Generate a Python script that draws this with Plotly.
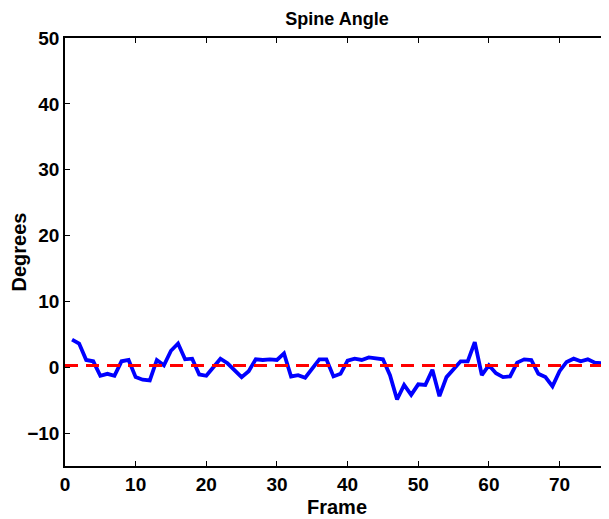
import plotly.graph_objects as go

frames = list(range(1, 78))
spine_angle = [
    4.2, 3.6, 1.1, 0.9, -1.3, -1.0, -1.3, 0.9, 1.1, -1.5,
    -1.9, -2.0, 1.1, 0.3, 2.5, 3.6, 1.2, 1.3, -1.1, -1.3,
    0.0, 1.3, 0.6, -0.4, -1.5, -0.6, 1.2, 1.1, 1.2, 1.1,
    2.1, -1.4, -1.2, -1.6, -0.2, 1.2, 1.2, -1.4, -1.0, 1.0,
    1.3, 1.1, 1.5, 1.4, 1.2, -1.2, -4.9, -2.7, -4.2, -2.6,
    -2.7, -0.4, -4.4, -1.5, -0.2, 0.9, 0.9, 3.8, -1.2, 0.3,
    -0.9, -1.5, -1.4, 0.7, 1.2, 1.1, -1.0, -1.5, -2.9, -0.6,
    0.8, 1.3, 0.9, 1.2, 0.7, 0.6, 0.8,
]
mean_angle = 0.25
x_ticks = [0, 10, 20, 30, 40, 50, 60, 70]
y_ticks = [-10, 0, 10, 20, 30, 40, 50]
y_tick_labels = ["\u221210", "0", "10", "20", "30", "40", "50"]
x_range = [0, 77]
y_range = [-15, 50]

fig = go.Figure()
fig.add_trace(go.Scatter(
    x=frames, y=spine_angle, mode="lines",
    line=dict(color="#0000ff", width=3.8), showlegend=False,
))
fig.add_trace(go.Scatter(
    x=x_range, y=[mean_angle, mean_angle], mode="lines",
    line=dict(color="#ff0000", width=3, dash="13px,8px"), showlegend=False,
))

font_family = "Liberation Sans, Arial, sans-serif"
axis_common = dict(
    showgrid=False, zeroline=False, showline=True, linecolor="black",
    linewidth=1.5, mirror="ticks", ticks="inside", ticklen=5,
    tickcolor="black", tickwidth=1, automargin=False,
    tickfont=dict(family=font_family, size=19, color="black", weight="bold"),
)
title_font = dict(family=font_family, size=20, color="black", weight="bold")

# page has an 8px body margin, so the figure is sized to fit the 609x519 window
fig.update_layout(
    width=601, height=511,
    margin=dict(l=57, r=0, t=30, b=53),
    paper_bgcolor="white", plot_bgcolor="white",
    title=dict(text="Spine Angle", x=0.5, xref="paper", xanchor="center",
               y=0.992, yanchor="top", pad=dict(t=0, b=0), automargin=False,
               font=dict(family=font_family, size=18, color="black", weight="bold")),
    xaxis=dict(range=x_range, tickvals=x_ticks,
               title=dict(text="Frame", standoff=6, font=title_font),
               **axis_common),
    yaxis=dict(range=y_range, tickvals=y_ticks, ticktext=y_tick_labels,
               title=dict(text="Degrees", standoff=5, font=title_font),
               **axis_common),
)

fig.write_html("out.html")
